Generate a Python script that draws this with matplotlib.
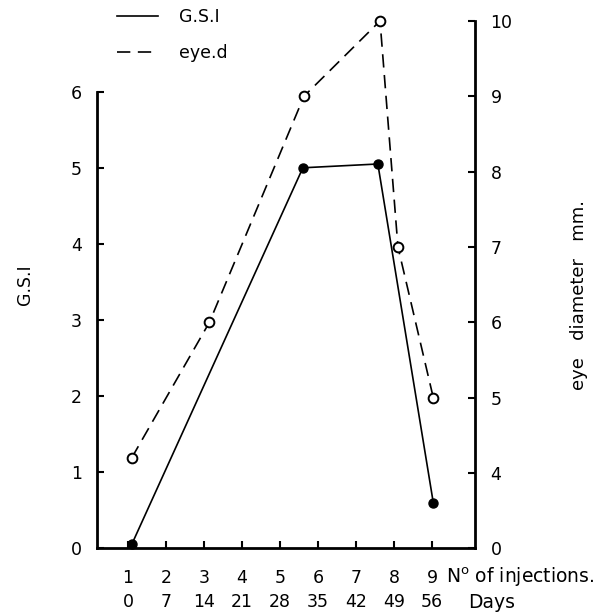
import matplotlib
matplotlib.use("Agg")
import matplotlib.pyplot as plt

# x tick rows: number of injections and days
injections = ["1", "2", "3", "4", "5", "6", "7", "8", "9"]
days = [0, 7, 14, 21, 28, 35, 42, 49, 56]

# G.S.I curve (left axis)
gsi_days = [0.7, 32.2, 46.0, 56.2]
gsi = [0.05, 5.0, 5.05, 0.6]

# eye diameter curve (right axis, mm)
eye_days = [0.7, 15.0, 32.4, 46.4, 49.7, 56.2]
eye_d = [4.2, 6.0, 9.0, 10.0, 7.0, 5.0]

left_ticks = [0, 1, 2, 3, 4, 5, 6]
right_ticks = [3, 4, 5, 6, 7, 8, 9, 10]
right_labels = ["0", "4", "5", "6", "7", "8", "9", "10"]

plt.rcParams["font.family"] = ["DejaVu Sans"]
fs = 12.5

fig = plt.figure(figsize=(6.06, 6.16), dpi=100)
ax = fig.add_axes([0.160, 0.110, 0.624, 0.856])
ax2 = ax.twinx()

ax.set_xlim(-5.7, 63.9)
ax.set_ylim(0, 6.93)
ax2.set_ylim(3, 10)

l1, = ax.plot(gsi_days, gsi, color="black", lw=1.2, marker="o", ms=6.5,
              mfc="black", mec="black", clip_on=False, zorder=3)
l2, = ax2.plot(eye_days, eye_d, color="black", lw=1.2, ls=(0, (8, 4.5)),
               marker="o", ms=7, mfc="white", mec="black", mew=1.4,
               clip_on=False, zorder=3)

# spines
for a in (ax, ax2):
    a.spines["top"].set_visible(False)
    for s in a.spines.values():
        s.set_linewidth(2.0)
ax.spines["right"].set_visible(False)
ax2.spines["left"].set_visible(False)
ax2.spines["bottom"].set_visible(False)
ax.spines["left"].set_bounds(0, 6)
ax2.spines["right"].set_bounds(3, 10)

# ticks
ax.set_yticks(left_ticks)
ax.tick_params(axis="y", direction="in", length=5, width=1.5, pad=11, labelsize=fs)
ax2.set_yticks(right_ticks)
ax2.set_yticklabels(right_labels)
ax2.tick_params(axis="y", direction="in", length=5, width=1.5, pad=11, labelsize=fs)

ax.set_xticks(days)
ax.set_xticklabels([f"{n}\n{d}" for n, d in zip(injections, days)],
                   linespacing=1.42)
ax.tick_params(axis="x", direction="in", length=5, width=1.5, pad=15, labelsize=fs)

ax.text(0.924, -0.055, "N$^{\\rm o}$ of injections.", transform=ax.transAxes,
        fontsize=fs + 1, ha="left", va="center")
ax.text(0.982, -0.103, "Days", transform=ax.transAxes,
        fontsize=fs + 1, ha="left", va="center")

ax.set_ylabel("G.S.I", fontsize=fs, labelpad=26)
ax2.set_ylabel("eye   diameter   mm.", fontsize=fs + 0.5, labelpad=36)
ax2.yaxis.set_label_coords(1.25, 0.48)

fig.legend([l1, l2], ["G.S.I", "eye.d"], loc="upper left",
           bbox_to_anchor=(0.167, 1.012), frameon=False, fontsize=fs,
           handlelength=2.4, handletextpad=1.2, labelspacing=1.0,
           markerscale=0)

fig.savefig("out.png", dpi=100)
